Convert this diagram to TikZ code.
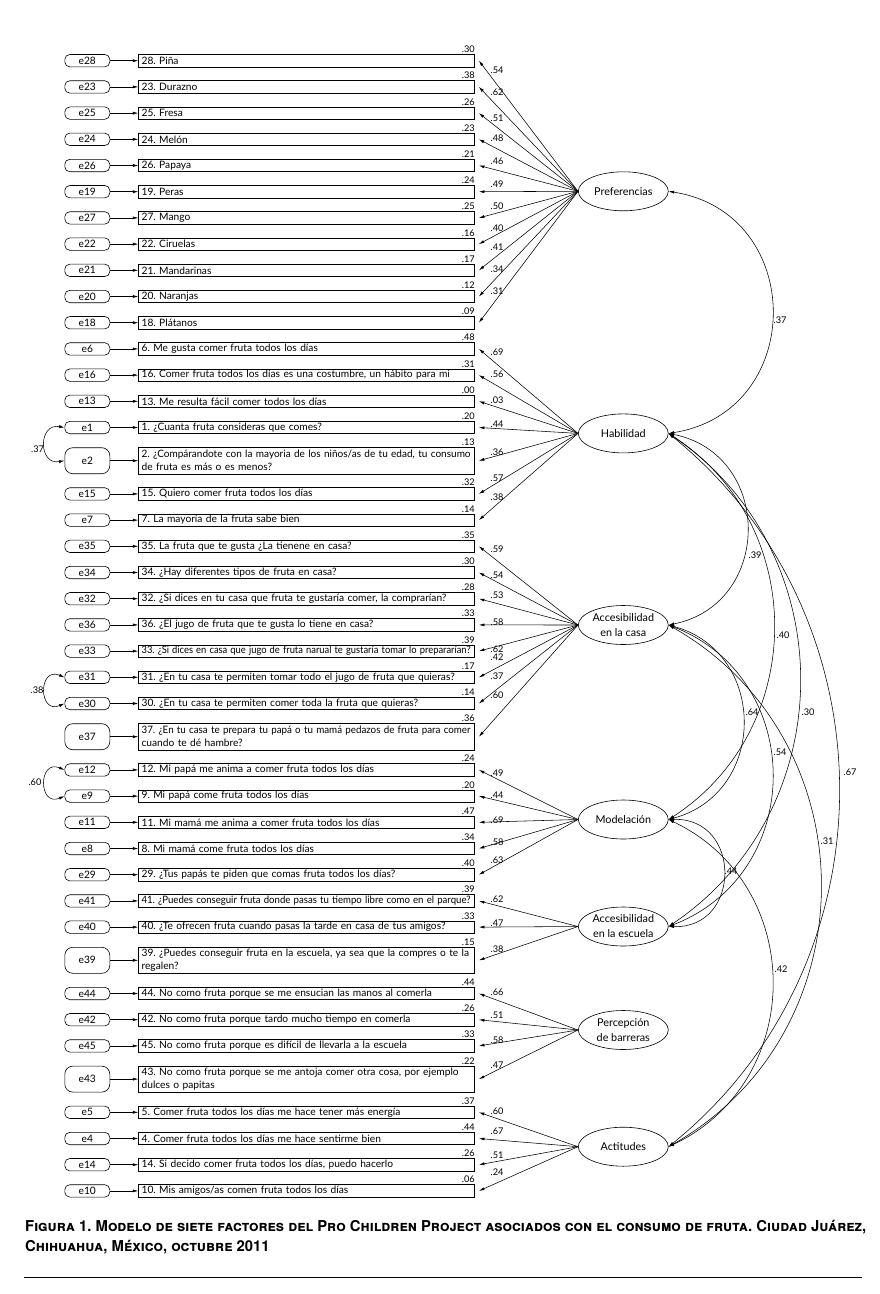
\documentclass[tikz,border=0pt]{standalone}
\usepackage{fontspec}
\setmainfont{Lato}
\newfontfamily\capfont{TeX Gyre Heros}
\usepackage{graphicx}
\usetikzlibrary{shapes.geometric,arrows.meta,calc}
\frenchspacing
\newsavebox\fitbox
% single line, shrunk to the box when it is too long
\newcommand\fitS[1]{\sbox\fitbox{#1}\ifdim\wd\fitbox>329pt\resizebox{329pt}{\height}{\usebox\fitbox}\else\usebox\fitbox\fi}
\newcommand\fitD[1]{#1}
% a full justified line
\newcommand\fullline[1]{\sbox\fitbox{#1}\ifdim\wd\fitbox>329pt\resizebox{329pt}{\height}{\usebox\fitbox}\else\makebox[329pt][s]{#1}\fi}
\tikzset{
  txt/.style={font=\fontsize{10.2}{13}\selectfont},
  errS/.style={draw, line width=0.6pt, rounded corners=5pt, minimum width=45pt, minimum height=12.4pt, inner sep=0pt, txt},
  errD/.style={errS, minimum height=26pt, rounded corners=8pt},
  obsS/.style={draw, line width=0.6pt, anchor=west, text width=330pt, minimum height=12.4pt, inner xsep=3pt, inner ysep=0pt, align=left, txt},
  obsD/.style={obsS, minimum height=26.6pt},
  lab/.style={inner sep=0pt, font=\fontsize{9.2}{10}\selectfont},
  factor/.style={draw, line width=0.6pt, ellipse, minimum width=90pt, minimum height=39pt, inner sep=0pt},
  flab/.style={align=center, inner sep=0pt, font=\fontsize{10.8}{15}\selectfont},
  arr/.style={-{Latex[length=5.5pt,width=3pt]}, line width=0.55pt},
  darr/.style={{Latex[length=5.5pt,width=3pt]}-{Latex[length=5.5pt,width=3pt]}, line width=0.55pt},
}
% #1 id, #2 y, #3 text, #4 R2, #5 factor, #6 loading, #7 loading label y, #8 S or D
\newcommand\obsrow[8]{%
  \node[err#8] (e#1) at (87.3,#2) {e#1};
  \node[obs#8] (v#1) at (138.3,#2) {\csname fit#8\endcsname{#3}};
  \node[lab, anchor=south east] (r#1) at ($(v#1.north east)+(0,-1.2)$) {#4};
  \node[lab] (l#1) at (497,#7) {#6};
  \draw[arr] (e#1) -- (v#1);
  \draw[arr] (#5.west) -- ([xshift=4pt]v#1.east);
}
\begin{document}
\begin{tikzpicture}[x=1pt,y=-1pt]
\useasboundingbox (0,0) rectangle (879,1294);
\fill[white] (0,0) rectangle (879,1294);

% factors
\node[factor, label={[flab]center:Preferencias}] (P) at (623.3,191.3) {};
\node[factor, label={[flab]center:Habilidad}] (H) at (623.3,433.4) {};
\node[factor, label={[flab]center:Accesibilidad\\en la casa}] (C) at (623.3,625) {};
\node[factor, label={[flab]center:Modelación}] (M) at (623.3,819.5) {};
\node[factor, label={[flab]center:Accesibilidad\\en la escuela}] (E) at (623.3,926.5) {};
\node[factor, label={[flab]center:Percepción\\de barreras}] (B) at (623.3,1030) {};
\node[factor, label={[flab]center:Actitudes}] (T) at (623.3,1146.7) {};

% Preferencias
\obsrow{28}{60.7}{28. Piña}{.30}{P}{.54}{70}{S}
\obsrow{23}{86.9}{23. Durazno}{.38}{P}{.62}{91.7}{S}
\obsrow{25}{113.1}{25. Fresa}{.26}{P}{.51}{118.3}{S}
\obsrow{24}{139.3}{24. Melón}{.23}{P}{.48}{138.3}{S}
\obsrow{26}{165.5}{26. Papaya}{.21}{P}{.46}{161}{S}
\obsrow{19}{191.7}{19. Peras}{.24}{P}{.49}{184.5}{S}
\obsrow{27}{217.9}{27. Mango}{.25}{P}{.50}{206.5}{S}
\obsrow{22}{244.1}{22. Ciruelas}{.16}{P}{.40}{228}{S}
\obsrow{21}{270.3}{21. Mandarinas}{.17}{P}{.41}{247.5}{S}
\obsrow{20}{296.5}{20. Naranjas}{.12}{P}{.34}{269}{S}
\obsrow{18}{322.7}{18. Plátanos}{.09}{P}{.31}{291}{S}
% Habilidad
\obsrow{6}{348.9}{6. Me gusta comer fruta todos los días}{.48}{H}{.69}{351.7}{S}
\obsrow{16}{375.1}{16. Comer fruta todos los días es una costumbre, un hábito para mi}{.31}{H}{.56}{374}{S}
\obsrow{13}{401.3}{13. Me resulta fácil comer todos los días}{.00}{H}{.03}{400}{S}
\obsrow{1}{427.5}{1. ¿Cuanta fruta consideras que comes?}{.20}{H}{.44}{424}{S}
\obsrow{2}{460.7}{\fullline{2. ¿Compárandote con la mayoria de los niños/as de tu edad, tu consumo}\\de fruta es más o es menos?}{.13}{H}{.36}{452}{D}
\obsrow{15}{493.9}{15. Quiero comer fruta todos los días}{.32}{H}{.57}{478}{S}
\obsrow{7}{520.1}{7. La mayoría de la fruta sabe bien}{.14}{H}{.38}{496.7}{S}
% Accesibilidad en la casa
\obsrow{35}{546.3}{35. La fruta que te gusta ¿La tienene en casa?}{.35}{C}{.59}{549}{S}
\obsrow{34}{572.5}{34. ¿Hay diferentes tipos de fruta en casa?}{.30}{C}{.54}{575}{S}
\obsrow{32}{598.7}{32. ¿Si dices en tu casa que fruta te gustaría comer, la comprarían?}{.28}{C}{.53}{595}{S}
\obsrow{36}{624.9}{36. ¿El jugo de fruta que te gusta lo tiene en casa?}{.33}{C}{.58}{621.7}{S}
\obsrow{33}{651.1}{33. ¿Si dices en casa que jugo de fruta narual te gustaría tomar lo prepararían?}{.39}{C}{.62}{649}{S}
\obsrow{31}{677.3}{31. ¿En tu casa te permiten tomar todo el jugo de fruta que quieras?}{.17}{C}{.42}{656.7}{S}
\obsrow{30}{703.5}{30. ¿En tu casa te permiten comer toda la fruta que quieras?}{.14}{C}{.37}{676}{S}
\obsrow{37}{736.7}{\fullline{37. ¿En tu casa te prepara tu papá o tu mamá pedazos de fruta para comer}\\cuando te dé hambre?}{.36}{C}{.60}{695}{D}
% Modelacion
\obsrow{12}{769.9}{12. Mi papá me anima a comer fruta todos los días}{.24}{M}{.49}{773}{S}
\obsrow{9}{796.1}{9. Mi papá come fruta todos los días}{.20}{M}{.44}{795}{S}
\obsrow{11}{822.3}{11. Mi mamá me anima a comer fruta todos los días}{.47}{M}{.69}{820}{S}
\obsrow{8}{848.5}{8. Mi mamá come fruta todos los días}{.34}{M}{.58}{842.5}{S}
\obsrow{29}{874.7}{29. ¿Tus papás te piden que comas fruta todos los días?}{.40}{M}{.63}{860}{S}
% Accesibilidad en la escuela
\obsrow{41}{900.9}{41. ¿Puedes conseguir fruta donde pasas tu tiempo libre como en el parque?}{.39}{E}{.62}{899}{S}
\obsrow{40}{927.1}{40. ¿Te ofrecen fruta cuando pasas la tarde en casa de tus amigos?}{.33}{E}{.47}{923.3}{S}
\obsrow{39}{960.3}{\fullline{39. ¿Puedes conseguir fruta en la escuela, ya sea que la compres o te la}\\regalen?}{.15}{E}{.38}{949}{D}
% Percepcion de barreras
\obsrow{44}{993.5}{44. No como fruta porque se me ensucian las manos al comerla}{.44}{B}{.66}{992}{S}
\obsrow{42}{1019.7}{42. No como fruta porque tardo mucho tiempo en comerla}{.26}{B}{.51}{1015}{S}
\obsrow{45}{1045.9}{45. No como fruta porque es difícil de llevarla a la escuela}{.33}{B}{.58}{1040}{S}
\obsrow{43}{1079.1}{43. No como fruta porque se me antoja comer otra cosa, por ejemplo\\dulces o papitas}{.22}{B}{.47}{1065}{D}
% Actitudes
\obsrow{5}{1112.3}{5. Comer fruta todos los días me hace tener más energía}{.37}{T}{.60}{1111}{S}
\obsrow{4}{1138.5}{4. Comer fruta todos los días me hace sentirme bien}{.44}{T}{.67}{1131.7}{S}
\obsrow{14}{1164.7}{14. Si decido comer fruta todos los días, puedo hacerlo}{.26}{T}{.51}{1155}{S}
\obsrow{10}{1190.9}{10. Mis amigos/as comen fruta todos los días}{.06}{T}{.24}{1172}{S}

% factor covariances
\draw[darr] (P.east) .. controls +(137.9,21.8) and +(137.9,-21.8) .. (H.east);
\draw[darr] (H.east) .. controls +(104.5,21.1) and +(104.5,-21.1) .. (C.east);
\draw[darr] (H.east) .. controls +(140,90.6) and +(140,-90.6) .. (M.east);
\draw[darr] (H.east) .. controls +(174.7,118) and +(174.7,-118) .. (E.east);
\draw[darr] (H.east) .. controls +(226.7,183.7) and +(226.7,-183.7) .. (T.east);
\draw[darr] (C.east) .. controls +(99.2,26.9) and +(99.2,-26.9) .. (M.east);
\draw[darr] (C.east) .. controls +(137.9,53.2) and +(137.9,-53.2) .. (E.east);
\draw[darr] (C.east) .. controls +(202.3,115.1) and +(202.3,-115.1) .. (T.east);
\draw[darr] (M.east) .. controls +(73.3,-2) and +(73.3,2) .. (E.east);
\draw[darr] (M.east) .. controls +(137.9,65.5) and +(137.9,-65.5) .. (T.east);
\node[lab] (cPH) at (780,320) {.37};
\node[lab] (cHC) at (755,555) {.39};
\node[lab] (cHM) at (783,635) {.40};
\node[lab] (cHE) at (808,712) {.30};
\node[lab] (cHT) at (850,772) {.67};
\node[lab] (cCM) at (752,712) {.64};
\node[lab] (cCE) at (780,752) {.54};
\node[lab] (cCT) at (827,841) {.31};
\node[lab] (cME) at (731,871) {.44};
\node[lab] (cMT) at (781,969) {.42};

% error covariances
\draw[darr] (e1.west) .. controls +(-26.4,-4.7) and +(-26.4,4.7) .. (e2.west);
\draw[darr] (e31.west) .. controls +(-26.4,-11.2) and +(-26.4,11.2) .. (e30.west);
\draw[darr] (e12.west) .. controls +(-26.4,-11.2) and +(-26.4,11.2) .. (e9.west);
\node[lab] (c12) at (37.5,449) {.37};
\node[lab] (c3130) at (37,690) {.38};
\node[lab] (c129) at (35,782) {.60};

% caption
\node[anchor=north west, inner sep=0pt] (cap) at (25,1219) {\capfont\bfseries\fontsize{15}{18}\selectfont
  \resizebox{841pt}{\height}{\begin{tabular}{@{}l@{}}\scshape Figura 1. Modelo de siete factores del Pro Children Project asociados con el consumo de fruta. Ciudad Juárez,\\[2pt]
  \scshape Chihuahua, México, octubre 2011\end{tabular}}};
\draw[line width=0.8pt] (24,1277) -- (862,1277);
\end{tikzpicture}
\end{document}
